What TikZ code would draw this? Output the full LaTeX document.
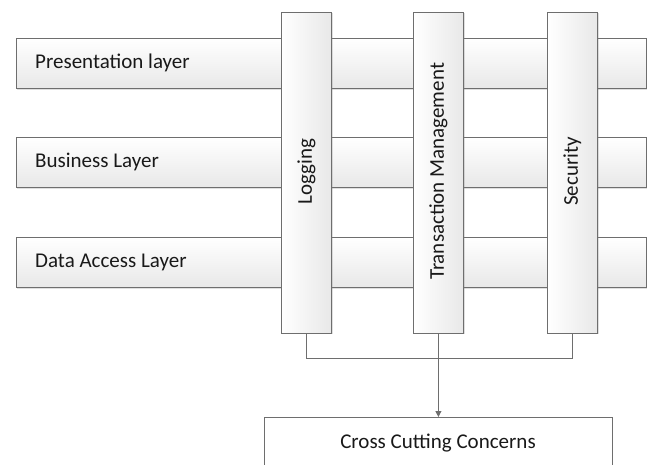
\documentclass[tikz,border=0pt]{standalone}
\usepackage{fontspec}
\setmainfont{Carlito}
\usetikzlibrary{arrows.meta,shadows}
\definecolor{edge}{HTML}{6E6E6E}
\definecolor{shadeA}{HTML}{FFFFFF}
\definecolor{shadeB}{HTML}{E8E8E8}
\tikzset{
  layer/.style={draw=edge, line width=0.8pt, top color=shadeA, bottom color=shadeB,
    minimum height=50pt, inner sep=0pt,
    drop shadow={shadow xshift=1pt, shadow yshift=-1.5pt, opacity=0.25}},
  concern/.style={draw=edge, line width=0.8pt, left color=shadeA, right color=shadeB,
    minimum width=50pt, inner sep=0pt,
    drop shadow={shadow xshift=1.5pt, shadow yshift=-1pt, opacity=0.25}},
  label/.style={font=\fontsize{21}{25}\selectfont, text=black!90, inner sep=0pt},
  link/.style={draw=edge, line width=0.8pt},
}
\begin{document}
\begin{tikzpicture}[x=1pt,y=-1pt]
  \useasboundingbox (0,0) rectangle (648,464);

  % horizontal layers
  \node[layer, minimum width=630pt, anchor=north west] (pres) at (16,38) {};
  \node[layer, minimum width=630pt, anchor=north west] (bus)  at (16,137) {};
  \node[layer, minimum width=630pt, anchor=north west] (data) at (16,237) {};
  \node[label, anchor=west] at (35,63)  {Presentation layer};
  \node[label, anchor=west] at (35,162) {Business Layer};
  \node[label, anchor=west] at (35,262) {Data Access Layer};

  % vertical concerns
  \node[concern, minimum height=321pt, anchor=north west] (log) at (281,12) {};
  \node[concern, minimum height=321pt, anchor=north west] (tx)  at (413,12) {};
  \node[concern, minimum height=321pt, anchor=north west] (sec) at (547,12) {};
  \node[label, rotate=90] at ([yshift=1.5pt]log.center) {Logging};
  \node[label, rotate=90] at ([yshift=1.5pt]tx.center)  {Transaction Management};
  \node[label, rotate=90] at ([yshift=1.5pt]sec.center) {Security};

  % target box
  \node[draw=edge, line width=0.8pt, fill=white, minimum width=348pt, minimum height=60pt,
        anchor=north west] (ccc) at (264,417) {};
  \node[label] at (438,443) {Cross Cutting Concerns};

  % connectors
  \coordinate (j) at (tx.south |- 0,358);
  \draw[link] (log.south) -- (log.south |- j) -- (sec.south |- j) -- (sec.south);
  \draw[link, -{Triangle[length=6pt,width=6pt]}] (tx.south) -- (tx.south |- ccc.north);
\end{tikzpicture}
\end{document}
